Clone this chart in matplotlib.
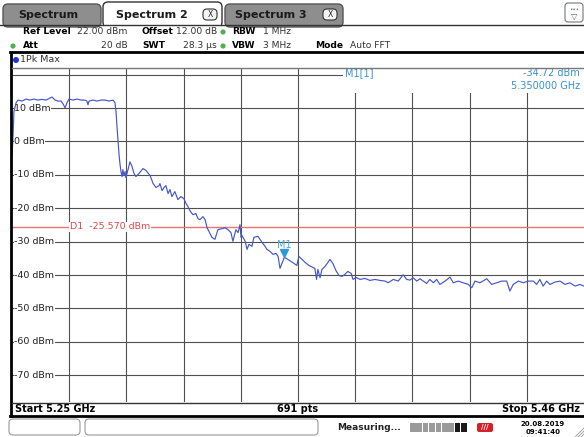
import numpy as np
import matplotlib
matplotlib.use('Agg')
from matplotlib import pyplot as plt
from matplotlib.patches import Rectangle, FancyBboxPatch, Circle
from matplotlib.transforms import offset_copy, blended_transform_factory

W, H = 584, 437

# trace 1 (1Pk Max)
freq_mhz = [5250.0, 5250.4, 5250.7, 5251.5, 5252.2, 5253.7, 5255.1, 5256.6, 5258.1, 5259.5,
            5261.0, 5262.5, 5264.0, 5264.7, 5265.8, 5266.9, 5268.0, 5268.7, 5269.5, 5270.2,
            5270.9, 5272.4, 5273.9, 5275.3, 5276.8, 5277.5, 5277.9, 5278.3, 5279.7, 5281.2,
            5282.7, 5284.1, 5285.6, 5287.1, 5287.8, 5288.2, 5288.5, 5288.9, 5289.3, 5289.6,
            5290.0, 5290.4, 5290.7, 5291.1, 5291.5, 5291.8, 5292.6, 5293.3, 5294.0, 5294.8,
            5295.5, 5296.6, 5298.1, 5299.2, 5300.7, 5301.8, 5302.9, 5304.0, 5304.3, 5305.1,
            5305.8, 5306.5, 5307.3, 5308.0, 5308.7, 5309.8, 5310.9, 5312.0, 5313.1, 5313.9,
            5314.6, 5315.3, 5316.4, 5317.5, 5318.3, 5319.0, 5320.1, 5320.9, 5321.6, 5322.7,
            5323.4, 5324.5, 5325.6, 5327.1, 5328.2, 5329.3, 5330.4, 5331.1, 5332.2, 5333.0,
            5333.7, 5334.1, 5334.4, 5335.6, 5336.3, 5337.0, 5338.1, 5338.8, 5340.3, 5341.8,
            5342.9, 5343.6, 5344.7, 5345.8, 5346.9, 5347.7, 5348.4, 5349.1, 5350.0, 5351.3,
            5352.4, 5353.5, 5354.6, 5355.3, 5356.5, 5357.6, 5359.0, 5360.5, 5361.2, 5361.8,
            5362.3, 5363.1, 5363.8, 5364.9, 5366.0, 5366.7, 5367.8, 5368.9, 5370.0, 5371.1,
            5372.2, 5373.3, 5374.5, 5375.2, 5376.3, 5377.8, 5379.6, 5381.4, 5383.3, 5385.1,
            5387.0, 5388.1, 5390.0, 5391.8, 5393.6, 5394.9, 5396.1, 5397.3, 5398.6, 5399.8,
            5401.0, 5402.2, 5403.4, 5404.7, 5405.9, 5407.1, 5409.0, 5410.8, 5412.0, 5413.8,
            5415.7, 5417.5, 5418.8, 5420.0, 5421.8, 5424.3, 5426.1, 5427.9, 5429.8, 5431.6,
            5432.8, 5434.0, 5435.9, 5437.7, 5439.5, 5441.4, 5442.6, 5443.8, 5445.0, 5446.3,
            5447.5, 5449.3, 5451.2, 5453.0, 5454.8, 5456.7, 5458.5, 5460.0]
level_dbm = [-4.6, 2.0, 8.9, 11.6, 12.4, 12.1, 12.7, 12.4, 12.7, 12.4,
             12.6, 12.4, 13.0, 13.3, 12.4, 12.1, 12.1, 11.3, 10.1, 11.6,
             12.7, 12.4, 12.7, 12.4, 12.4, 12.1, 11.0, 12.1, 12.4, 12.1,
             12.4, 12.4, 12.1, 12.4, 11.6, 8.9, 5.0, 0.5, -4.0, -6.4,
             -9.0, -10.5, -8.4, -10.2, -9.0, -10.8, -8.4, -6.1, -7.3, -9.6,
             -10.5, -9.6, -8.1, -8.7, -10.2, -12.6, -13.8, -13.2, -12.6, -14.7,
             -13.8, -13.2, -15.6, -14.4, -16.5, -15.0, -17.4, -16.5, -17.1, -18.6,
             -19.5, -20.7, -21.9, -21.6, -23.1, -23.4, -22.5, -23.4, -25.8, -27.6,
             -28.7, -29.3, -26.4, -26.1, -25.8, -26.4, -27.3, -29.9, -26.4, -27.3,
             -24.9, -28.7, -28.1, -29.9, -32.3, -30.8, -31.4, -28.7, -28.4, -30.2,
             -31.4, -32.3, -32.9, -33.8, -33.5, -34.4, -38.0, -36.5, -34.7, -35.3,
             -35.9, -36.5, -37.1, -34.4, -35.3, -36.2, -37.1, -37.7, -38.0, -41.3,
             -38.3, -40.8, -38.3, -37.4, -36.2, -35.3, -36.5, -38.6, -40.1, -40.4,
             -39.8, -38.9, -39.5, -41.3, -40.7, -41.3, -41.0, -41.6, -41.3, -41.6,
             -41.8, -42.3, -41.3, -41.8, -39.9, -41.3, -41.5, -40.8, -41.8, -41.1,
             -41.8, -42.5, -41.3, -42.3, -41.3, -42.8, -41.8, -40.6, -42.3, -41.8,
             -42.3, -42.8, -43.8, -41.8, -42.3, -41.1, -42.8, -42.3, -41.8, -41.8,
             -44.8, -42.8, -41.8, -42.3, -41.8, -41.8, -42.8, -41.3, -43.3, -41.8,
             -42.8, -42.1, -41.8, -42.8, -42.3, -43.3, -42.8, -43.3]

start_ghz, stop_ghz = 5.25, 5.46
ref_level, bottom_level = 22.0, -78.0
grid_levels = [20, 10, 0, -10, -20, -30, -40, -50, -60, -70]
label_levels = [10, 0, -10, -20, -30, -40, -50, -60, -70]
d1_level = -25.570
m1_freq, m1_level = 5.35, -34.72
n_points = 691

fig = plt.figure(figsize=(W / 100, H / 100), dpi=100)
fig.patch.set_facecolor('white')


def px_box(x0, y0, x1, y1):
    return [x0 / W, 1 - y1 / H, (x1 - x0) / W, (y1 - y0) / H]


# ---- the diagram ----
ax = fig.add_axes(px_box(12, 68, 584, 402))
ax.set_xlim(start_ghz, stop_ghz)
ax.set_ylim(bottom_level, ref_level)
ax.set_xticks(start_ghz + (stop_ghz - start_ghz) * np.arange(1, 10) / 10)
ax.set_yticks(grid_levels)
ax.tick_params(length=0, labelbottom=False, labelleft=False)
ax.grid(True, color='#505050', lw=0.8)
ax.set_axisbelow(True)
for s in ax.spines.values():
    s.set_visible(False)

ylab_tr = blended_transform_factory(ax.transAxes, ax.transData)
for lv in label_levels:
    ax.text(0.004, lv, '%d dBm' % lv, transform=ylab_tr, ha='left', va='center',
            fontsize=6.8, color='#222222', zorder=3,
            bbox=dict(fc='white', ec='none', pad=0.4))

ax.axhline(d1_level, color='#e87474', lw=1.0, zorder=2)
ax.text(0.101, d1_level, 'D1  %.3f dBm' % d1_level, transform=ylab_tr, ha='left',
        va='center', fontsize=6.8, color='#d94a4a', zorder=3,
        bbox=dict(fc='white', ec='none', pad=0.4))

ax.plot(np.array(freq_mhz) / 1000, level_dbm, color='#4556cc', lw=0.85, zorder=4)

# marker M1
up = offset_copy(ax.transData, fig=fig, x=0, y=4, units='dots')
ax.plot([m1_freq], [m1_level], marker='v', ms=5.5, color='#2a9ad8', transform=up, zorder=5)
lab = offset_copy(ax.transData, fig=fig, x=0, y=12, units='dots')
ax.text(m1_freq, m1_level, 'M1', transform=lab, ha='center', va='center',
        fontsize=7, color='#4aa8dc', zorder=5)

# marker result box
ax.add_patch(Rectangle((0.579, 0.925), 0.421, 0.075, transform=ax.transAxes,
                       fc='white', ec='none', zorder=3))
ax.text(0.582, 0.984, 'M1[1]', transform=ax.transAxes, ha='left', va='center',
        fontsize=7, color='#3a90cf', zorder=4)
ax.text(0.993, 0.984, '%.2f dBm' % m1_level, transform=ax.transAxes, ha='right',
        va='center', fontsize=7, color='#3a90cf', zorder=4)
ax.text(0.993, 0.946, '%.6f GHz' % m1_freq, transform=ax.transAxes, ha='right',
        va='center', fontsize=7, color='#3a90cf', zorder=4)

# ---- screen chrome, in pixels ----
ui = fig.add_axes([0, 0, 1, 1], zorder=5)
ui.set_xlim(0, W)
ui.set_ylim(H, 0)
ui.axis('off')


def rbox(x0, y0, x1, y1, fc, ec, r=4, lw=1.0):
    ui.add_patch(FancyBboxPatch((x0, y0), x1 - x0, y1 - y0,
                                boxstyle='round,pad=0,rounding_size=%g' % r,
                                fc=fc, ec=ec, lw=lw))


# tabs
ui.plot([0, W], [25, 25], color='#333333', lw=1)
rbox(3, 4, 101, 27, '#8e8e8e', '#555555', r=5)
rbox(225, 4, 343, 27, '#8e8e8e', '#555555', r=5)
rbox(103, 2, 222, 27, 'white', '#333333', r=5)
ui.add_patch(Rectangle((104, 24), 117, 4, fc='white', ec='none'))
ui.text(18, 15, 'Spectrum', fontsize=8, fontweight='bold', color='#1a1a1a', va='center')
ui.text(116, 15, 'Spectrum 2', fontsize=8, fontweight='bold', color='#1a1a1a', va='center')
ui.text(235, 15, 'Spectrum 3', fontsize=8, fontweight='bold', color='#1a1a1a', va='center')
for cx in (210, 330):
    rbox(cx - 7, 9, cx + 7, 20, '#f4f4f4', '#333333', r=4, lw=0.8)
    ui.text(cx, 14.5, 'X', fontsize=5.5, ha='center', va='center', color='#222222')
rbox(565, 3, 583, 22, 'white', '#777777', r=3, lw=0.8)
ui.text(574, 9, '\u2022\u2022\u2022', fontsize=4, ha='center', va='center', color='#556677')
ui.text(574, 16, '\u25bd', fontsize=6, ha='center', va='center', color='#556677')

# settings
fs = 6.6
ui.text(23, 32, 'Ref Level', fontsize=fs, fontweight='bold', va='center')
ui.text(77, 32, '22.00 dBm', fontsize=fs, color='#333333', va='center')
ui.text(142, 32, 'Offset', fontsize=fs, fontweight='bold', va='center')
ui.text(217, 32, '12.00 dB', fontsize=fs, color='#333333', va='center', ha='right')
ui.text(232, 32, 'RBW', fontsize=fs, fontweight='bold', va='center')
ui.text(263, 32, '1 MHz', fontsize=fs, color='#333333', va='center')
ui.text(23, 46, 'Att', fontsize=fs, fontweight='bold', va='center')
ui.text(128, 46, '20 dB', fontsize=fs, color='#333333', va='center', ha='right')
ui.text(142, 46, 'SWT', fontsize=fs, fontweight='bold', va='center')
ui.text(217, 46, '28.3 \u00b5s', fontsize=fs, color='#333333', va='center', ha='right')
ui.text(232, 46, 'VBW', fontsize=fs, fontweight='bold', va='center')
ui.text(263, 46, '3 MHz', fontsize=fs, color='#333333', va='center')
ui.text(315, 46, 'Mode', fontsize=fs, fontweight='bold', va='center')
ui.text(350, 46, 'Auto FFT', fontsize=fs, color='#333333', va='center')
for cx, cy in [(223, 32), (13, 46), (223, 46)]:
    ui.add_patch(Circle((cx, cy), 2.6, fc='#52b052', ec='none'))

# window frame
ui.plot([10, W], [52, 52], color='black', lw=2)
ui.plot([11, 11], [52, 416], color='black', lw=2)
ui.plot([10, W], [415.5, 415.5], color='black', lw=2)
ui.plot([12, W], [67.5, 67.5], color='#777777', lw=1)
ui.plot([12, W], [402.5, 402.5], color='#333333', lw=1)
ui.add_patch(Circle((16, 60), 3, fc='#1f35d8', ec='none'))
ui.text(20, 60, '1Pk Max', fontsize=6.8, color='#333333', va='center')
ui.text(15, 408.5, 'Start %.2f GHz' % start_ghz, fontsize=7, fontweight='bold', va='center')
ui.text(298, 408.5, '%d pts' % n_points, fontsize=7, fontweight='bold', va='center', ha='center')
ui.text(580, 408.5, 'Stop %.2f GHz' % stop_ghz, fontsize=7, fontweight='bold', va='center', ha='right')

# status bar
rbox(9, 419, 80, 435, 'white', '#9a9a9a', r=4, lw=0.8)
rbox(85, 419, 318, 435, 'white', '#9a9a9a', r=4, lw=0.8)
ui.text(337, 427, 'Measuring...', fontsize=6.5, fontweight='bold', va='center', color='#222222')
for i in range(9):
    c = '#1a1a1a' if i >= 7 else '#9a9a9a'
    ui.add_patch(Rectangle((410 + i * 6.4, 423), 5.6, 9, fc=c, ec='none'))
rbox(477, 423, 493, 432, '#d8202a', 'none', r=2)
ui.text(485, 427.5, '///', fontsize=5, ha='center', va='center', color='white', fontweight='bold')
ui.text(543, 423.5, '20.08.2019', fontsize=5, fontweight='bold', ha='center', va='center')
ui.text(543, 431.5, '09:41:40', fontsize=5, fontweight='bold', ha='center', va='center')
for k in range(3):
    ui.plot([584 - 3 * k - 3, 584], [437, 437 - 3 * k - 3], color='#999999', lw=0.6)

fig.savefig('out.png', dpi=100, facecolor='white')
